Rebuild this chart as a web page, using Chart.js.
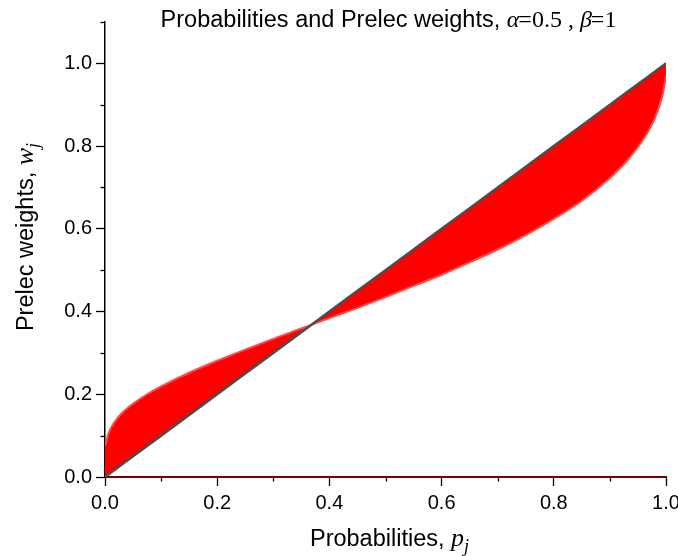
<!DOCTYPE html>
<html>
<head>
<meta charset="utf-8">
<script src="https://cdn.jsdelivr.net/npm/chart.js@4"></script>
<style>
  html, body { margin: 0; padding: 0; background: #fff; overflow: hidden; }
  #wrap { width: 678px; height: 556px; }
</style>
</head>
<body>
<div id="wrap"><canvas id="c" width="678" height="556"></canvas></div>
<script>
// Probabilities p_j (x values)
const probabilities = [0, 0.002, 0.005, 0.01, 0.02, 0.03, 0.05, 0.075, 0.1, 0.15, 0.2, 0.25, 0.3, 0.35, 0.4, 0.45, 0.5, 0.55, 0.6, 0.65, 0.7, 0.75, 0.8, 0.85, 0.9, 0.93, 0.96, 0.98, 0.99, 0.995, 1];
// Prelec weights w_j
const prelecWeights = [0.075, 0.083, 0.100, 0.117, 0.138, 0.154, 0.177, 0.200, 0.219, 0.252, 0.281, 0.308, 0.334, 0.359, 0.384, 0.409, 0.435, 0.462, 0.489, 0.519, 0.550, 0.585, 0.624, 0.668, 0.723, 0.764, 0.817, 0.867, 0.905, 0.930, 0.970];
// Diagonal w = p
const diagonal = probabilities;
const majorTicks = [0, 0.2, 0.4, 0.6, 0.8, 1.0];
const minorTicksX = [0.1, 0.3, 0.5, 0.7, 0.9];
const minorTicksY = [0.1, 0.3, 0.5, 0.7, 0.9, 1.1];

const curvePts = probabilities.map((p, i) => ({x: p, y: prelecWeights[i]}));
const diagPts = probabilities.map((p, i) => ({x: p, y: diagonal[i]}));

function drawRich(ctx, pieces, cx, baseY) {
  let total = 0;
  pieces.forEach(pc => { ctx.font = pc.font; pc.w = ctx.measureText(pc.t).width; total += pc.w + (pc.dx || 0); });
  let x = cx - total / 2;
  ctx.textBaseline = 'alphabetic';
  ctx.textAlign = 'left';
  pieces.forEach(pc => {
    ctx.font = pc.font;
    x += (pc.dx || 0);
    ctx.fillText(pc.t, x, baseY + (pc.dy || 0));
    x += pc.w;
  });
}

const SANS = '"Liberation Sans", Arial, sans-serif';
const SERIF = '"Liberation Serif", "Times New Roman", serif';

const textPlugin = {
  id: 'richText',
  afterDraw(chart) {
    const ctx = chart.ctx;
    const ca = chart.chartArea;
    const xs = chart.scales.x, ys = chart.scales.y;
    ctx.save();
    // minor ticks
    ctx.strokeStyle = '#000';
    ctx.lineWidth = 1.3;
    minorTicksX.forEach(v => {
      const px = Math.round(xs.getPixelForValue(v)) + 0.5;
      ctx.beginPath(); ctx.moveTo(px, ca.bottom); ctx.lineTo(px, ca.bottom + 4.5); ctx.stroke();
    });
    minorTicksY.forEach(v => {
      const py = Math.round(ys.getPixelForValue(v)) + 0.5;
      ctx.beginPath(); ctx.moveTo(ca.left, py); ctx.lineTo(ca.left - 4.5, py); ctx.stroke();
    });
    ctx.fillStyle = '#000';
    const cx = (ca.left + ca.right) / 2;
    // title
    drawRich(ctx, [
      {t: 'Probabilities and Prelec weights, ', font: '23.5px ' + SANS},
      {t: 'α', font: 'italic 24px ' + SERIF},
      {t: '=0.5 , ', font: '24px ' + SERIF, dx: -1},
      {t: 'β', font: 'italic 24px ' + SERIF},
      {t: '=1', font: '24px ' + SERIF, dx: -1}
    ], cx + 3, 27);
    // x axis title
    drawRich(ctx, [
      {t: 'Probabilities, ', font: '23.5px ' + SANS},
      {t: 'p', font: 'italic 26px ' + SERIF},
      {t: 'j', font: 'italic 18px ' + SERIF, dy: 6}
    ], cx + 4, 546);
    // y axis title
    ctx.translate(33, 237);
    ctx.rotate(-Math.PI / 2);
    drawRich(ctx, [
      {t: 'Prelec weights, ', font: '23.5px ' + SANS},
      {t: 'w', font: 'italic 26px ' + SERIF},
      {t: 'j', font: 'italic 18px ' + SERIF, dy: 6}
    ], 0, 0);
    ctx.restore();
  }
};

new Chart(document.getElementById('c'), {
  type: 'scatter',
  data: {
    datasets: [
      {
        label: 'Prelec',
        data: curvePts,
        showLine: true,
        borderColor: '#ff4a4a',
        borderWidth: 2,
        pointRadius: 0,
        cubicInterpolationMode: 'monotone',
        fill: {target: 1, above: '#ff0000', below: '#ff0000'},
        order: 2
      },
      {
        label: 'Diagonal',
        data: diagPts,
        showLine: true,
        borderColor: '#4d4d4d',
        borderWidth: 2.5,
        pointRadius: 0,
        fill: false,
        order: 1
      }
    ]
  },
  options: {
    responsive: false,
    animation: false,
    events: [],
    layout: { padding: { left: 0, right: 12, top: 22, bottom: 0 } },
    plugins: { legend: { display: false }, tooltip: { enabled: false }, title: { display: false } },
    scales: {
      x: {
        type: 'linear',
        min: 0, max: 1,
        afterBuildTicks: s => { s.ticks = majorTicks.map(v => ({value: v})); },
        ticks: {
          color: '#000',
          font: { family: SANS, size: 20 },
          padding: 5,
          maxRotation: 0,
          autoSkip: false,
          callback: v => Number(v).toFixed(1)
        },
        grid: { display: true, drawOnChartArea: false, drawTicks: true, tickLength: 9, tickColor: '#000', tickWidth: 1.3 },
        border: { display: true, color: '#7a0000', width: 2 },
        afterFit: s => { s.height = 79; s.paddingLeft = 0; s.paddingRight = 0; }
      },
      y: {
        type: 'linear',
        min: 0, max: 1.1,
        afterBuildTicks: s => { s.ticks = majorTicks.map(v => ({value: v})); },
        ticks: {
          color: '#000',
          font: { family: SANS, size: 20 },
          padding: 4,
          autoSkip: false,
          callback: v => Number(v).toFixed(1)
        },
        grid: { display: true, drawOnChartArea: false, drawTicks: true, tickLength: 9, tickColor: '#000', tickWidth: 1.3 },
        border: { display: true, color: '#000', width: 1.5 },
        afterFit: s => { s.width = 105; s.paddingTop = 0; s.paddingBottom = 0; }
      }
    }
  },
  plugins: [textPlugin]
});
</script>
</body>
</html>
